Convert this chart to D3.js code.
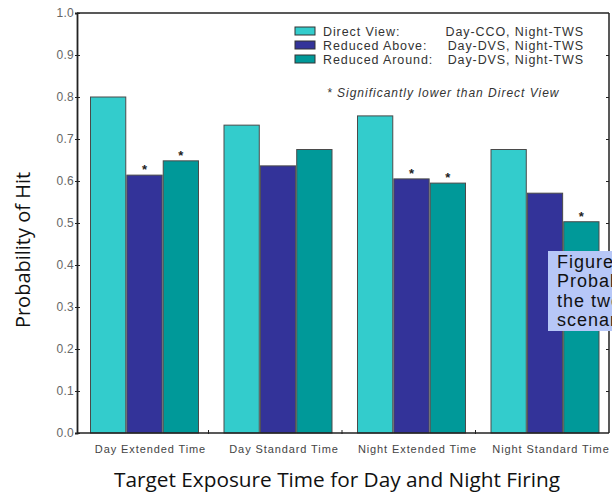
<html>
    <head>
        <script src="https://d3js.org/d3.v7.min.js"></script>
        <style>
            body { margin: 0; background: #fff; }
        </style>
    </head>
    <body>
        <div id="chartDiv1"></div>
    </body>

<script>

// data
const categories = ["Day Extended Time", "Day Standard Time", "Night Extended Time", "Night Standard Time"];
const seriesNames = ["Direct View", "Reduced Above", "Reduced Around"];
const seriesDetail = ["Day-CCO, Night-TWS", "Day-DVS, Night-TWS", "Day-DVS, Night-TWS"];
const directView = [0.800, 0.733, 0.755, 0.675];
const reducedAbove = [0.614, 0.636, 0.605, 0.571];
const reducedAround = [0.648, 0.675, 0.595, 0.503];
// asterisk = significantly lower than Direct View
const sigAbove = [true, false, true, false];
const sigAround = [true, false, true, true];
const yTicks = [0, 0.1, 0.2, 0.3, 0.4, 0.5, 0.6, 0.7, 0.8, 0.9, 1.0];
const captionLines = ["Figure 7.", "Probability of Hit for", "the two firing", "scenarios"];

const colors = ["#33cccc", "#333399", "#009999"];

function drawChart() {
  const W = 612, H = 493;
  const left = 77, right = 609, top = 13, bottom = 433;
  const arial = "Arial, 'Liberation Sans', sans-serif";

  const svg = d3.select("#chartDiv1")
    .append("svg")
    .attr("width", W)
    .attr("height", H)
    .style("display", "block");

  svg.append("rect").attr("width", W).attr("height", H).attr("fill", "#fff");

  const y = d3.scaleLinear().domain([0, 1]).range([bottom, top]);

  const x0 = d3.scaleBand()
    .domain(categories)
    .range([left, 611]);

  const x1 = d3.scaleBand()
    .domain(seriesNames)
    .range([13.5, 13.5 + 108])
    .paddingInner(0.03);

  const values = [directView, reducedAbove, reducedAround];
  const sigs = [null, sigAbove, sigAround];

  const rows = [];
  categories.forEach((c, i) => {
    seriesNames.forEach((s, j) => {
      rows.push({ cat: c, ser: s, j: j, v: values[j][i], sig: sigs[j] ? sigs[j][i] : false });
    });
  });

  // bars
  svg.selectAll("rect.bar")
    .data(rows)
    .enter()
    .append("rect")
    .attr("class", "bar")
    .attr("x", d => x0(d.cat) + x1(d.ser))
    .attr("y", d => y(d.v))
    .attr("width", x1.bandwidth())
    .attr("height", d => y(0) - y(d.v))
    .attr("fill", d => colors[d.j])
    .attr("stroke", "#4a4a4a")
    .attr("stroke-width", 1);

  // asterisks
  svg.selectAll("text.star")
    .data(rows.filter(d => d.sig))
    .enter()
    .append("text")
    .attr("x", d => x0(d.cat) + x1(d.ser) + x1.bandwidth() / 2)
    .attr("y", d => y(d.v) - 1)
    .attr("text-anchor", "middle")
    .style("font-family", arial)
    .style("font-size", "13px")
    .style("font-weight", "bold")
    .attr("fill", "#222")
    .text("*");

  // frame
  const frame = svg.append("g").attr("stroke", "#222").attr("fill", "none");
  frame.append("line").attr("x1", left).attr("x2", right).attr("y1", top).attr("y2", top).attr("stroke-width", 1.5);
  frame.append("line").attr("x1", right).attr("x2", right).attr("y1", top).attr("y2", bottom).attr("stroke-width", 1.5);
  frame.append("line").attr("x1", left).attr("x2", right).attr("y1", bottom).attr("y2", bottom).attr("stroke-width", 1.5);

  // y axis
  const yAxis = svg.append("g")
    .attr("transform", "translate(" + left + ",0)")
    .call(d3.axisLeft(y).tickValues(yTicks).tickFormat(d3.format(".1f")).tickSize(2).tickPadding(1));
  yAxis.select(".domain").attr("stroke", "#222").attr("stroke-width", 1.8);
  yAxis.selectAll(".tick line").attr("stroke", "#222").attr("x2", 3).attr("x1", -2);
  yAxis.selectAll(".tick text")
    .style("font-family", arial)
    .style("font-size", "12px")
    .style("letter-spacing", "0.3px")
    .attr("fill", "#666");

  // right side ticks pointing in
  svg.append("g")
    .attr("transform", "translate(" + right + ",0)")
    .call(d3.axisRight(y).tickValues(yTicks.slice(1, 10)).tickSize(-3).tickFormat(""))
    .call(g => g.select(".domain").remove())
    .selectAll(".tick line").attr("stroke", "#222");

  // category separators on bottom
  svg.selectAll("line.sep")
    .data(categories.slice(1))
    .enter()
    .append("line")
    .attr("x1", d => x0(d) - 2)
    .attr("x2", d => x0(d) - 2)
    .attr("y1", bottom - 3)
    .attr("y2", bottom + 1)
    .attr("stroke", "#222");

  // category labels
  svg.selectAll("text.cat")
    .data(categories)
    .enter()
    .append("text")
    .attr("x", d => x0(d) + 13.5 + 54 + 6)
    .attr("y", 453)
    .attr("text-anchor", "middle")
    .style("font-family", arial)
    .style("font-size", "11px")
    .style("letter-spacing", "0.9px")
    .attr("fill", "#444")
    .text(d => d);

  // axis titles
  svg.append("text")
    .attr("x", 337)
    .attr("y", 487)
    .attr("text-anchor", "middle")
    .style("font-family", "'Open Sans', sans-serif")
    .style("font-size", "20.8px")
    .attr("fill", "#111")
    .text("Target Exposure Time for Day and Night Firing");

  svg.append("text")
    .attr("transform", "translate(30,250) rotate(-90)")
    .attr("text-anchor", "middle")
    .style("font-family", "'Open Sans', sans-serif")
    .style("font-size", "20px")
    .attr("fill", "#111")
    .text("Probability of Hit");

  // legend
  const leg = svg.append("g");
  const legY = [31, 45, 59];
  seriesNames.forEach((s, i) => {
    leg.append("rect")
      .attr("x", 295).attr("y", legY[i] - 4)
      .attr("width", 20).attr("height", 8)
      .attr("fill", colors[i])
      .attr("stroke", "#333").attr("stroke-width", 1);
    leg.append("text")
      .attr("x", 323).attr("y", legY[i] + 4.5)
      .style("font-family", arial)
      .style("font-size", "12.5px")
      .style("letter-spacing", "0.9px")
      .attr("fill", "#333")
      .text(s + ":");
    leg.append("text")
      .attr("x", 584).attr("y", legY[i] + 4.5)
      .attr("text-anchor", "end")
      .style("font-family", arial)
      .style("font-size", "12.5px")
      .style("letter-spacing", "0.9px")
      .attr("fill", "#333")
      .text(seriesDetail[i]);
  });
  leg.append("text")
    .attr("x", 327).attr("y", 97)
    .style("font-family", arial)
    .style("font-size", "12px")
    .style("font-style", "italic")
    .style("letter-spacing", "1px")
    .attr("fill", "#333")
    .text("* Significantly lower than Direct View");

  // caption box overlapping the chart (cut off at the page edge, as in the picture)
  svg.append("rect")
    .attr("x", 548).attr("y", 251)
    .attr("width", 80).attr("height", 80)
    .attr("fill", "#b7c7f7");
  svg.selectAll("text.cap")
    .data(captionLines)
    .enter()
    .append("text")
    .attr("x", 557)
    .attr("y", (d, i) => 268 + i * 19.3)
    .style("font-family", arial)
    .style("font-size", "18px")
    .style("letter-spacing", "1px")
    .attr("fill", "#111")
    .text(d => d);
}

drawChart();

</script>

</html>
